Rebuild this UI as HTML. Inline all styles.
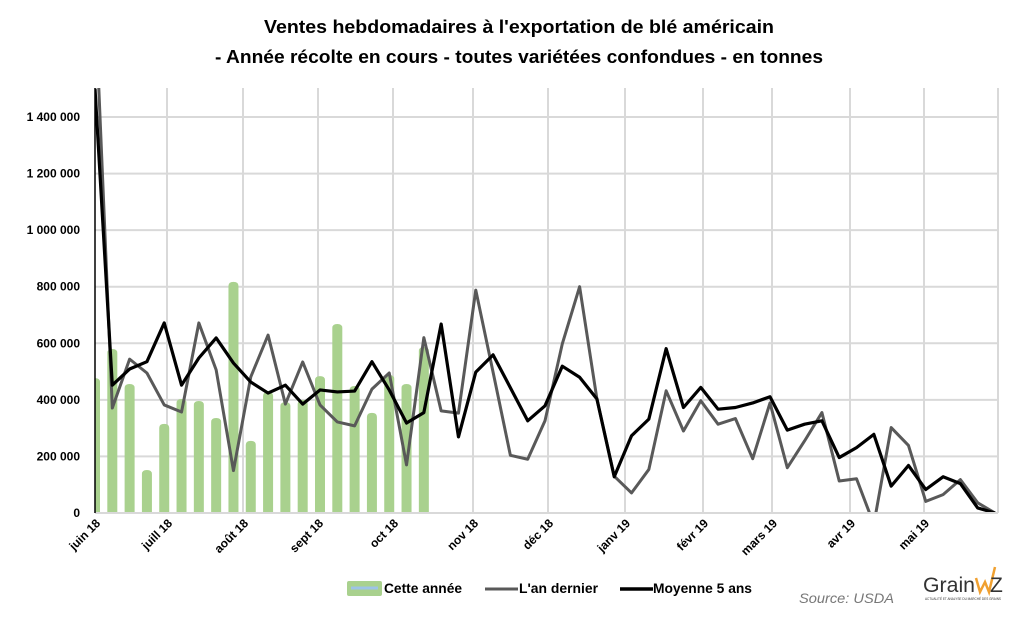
<!DOCTYPE html>
<html><head><meta charset="utf-8"><style>
body{margin:0;background:#fff;}
svg{display:block;font-family:"Liberation Sans Narrow","Liberation Sans",sans-serif;}
</style></head><body>
<svg id="chart" width="1024" height="622" viewBox="0 0 1024 622">
<text x="519" y="33" text-anchor="middle" font-size="18" font-weight="bold" textLength="510" lengthAdjust="spacingAndGlyphs">Ventes hebdomadaires à l'exportation de blé américain</text>
<text x="519" y="63" text-anchor="middle" font-size="18" font-weight="bold" textLength="608" lengthAdjust="spacingAndGlyphs">- Année récolte en cours - toutes variétées confondues - en tonnes</text>
<g id="grid"></g><g id="bars"></g><g id="lines"></g><g id="axes"></g>
<g>
 <rect x="347" y="581" width="35" height="15" rx="2" fill="#a9d18e"/>
 <line x1="351" y1="588" x2="378" y2="588" stroke="#9dc3e6" stroke-width="3"/>
 <text x="384" y="593" font-size="14" font-weight="bold" textLength="78" lengthAdjust="spacingAndGlyphs">Cette année</text>
 <line x1="485" y1="589" x2="518" y2="589" stroke="#595959" stroke-width="3"/>
 <text x="519" y="593" font-size="14" font-weight="bold" textLength="79" lengthAdjust="spacingAndGlyphs">L'an dernier</text>
 <line x1="620" y1="589" x2="653" y2="589" stroke="#000" stroke-width="3.5"/>
 <text x="653" y="593" font-size="14" font-weight="bold" textLength="99" lengthAdjust="spacingAndGlyphs">Moyenne 5 ans</text>
</g>
<text x="799" y="603" font-size="14" font-style="italic" fill="#777" textLength="95" lengthAdjust="spacingAndGlyphs">Source: USDA</text>
<g>
 <text x="923" y="592" font-size="21" fill="#333" font-family="Liberation Sans, sans-serif" textLength="52" lengthAdjust="spacingAndGlyphs">Grain</text>
 <polyline points="976,578 980,592 985,582 989,592 995,567" fill="none" stroke="#f0a030" stroke-width="2.5"/>
 <text x="990" y="592" font-size="21" fill="#333" font-family="Liberation Sans, sans-serif">Z</text>
 <text x="925" y="600" font-size="4" fill="#333" textLength="76" lengthAdjust="spacingAndGlyphs">ACTUALITÉ ET ANALYSE DU MARCHÉ DES GRAINS</text>
</g>
</svg>
<script>
const monthLabels=["juin 18","juill 18","août 18","sept 18","oct 18","nov 18","déc 18","janv 19","févr 19","mars 19","avr 19","mai 19"];
const monthGridX=[95,167,243,318,393,473,548,625,703,772,850,924,998];
const yTicks=[0,200000,400000,600000,800000,1000000,1200000,1400000];
const yTickLabels=["0","200 000","400 000","600 000","800 000","1 000 000","1 200 000","1 400 000"];
const cetteAnnee=[477000,580000,456000,152000,315000,403000,396000,336000,817000,255000,428000,392000,400000,484000,668000,449000,354000,488000,456000,587000];
const anDernier=[1820000,371000,544000,495000,382000,357000,672000,506000,150000,481000,629000,385000,534000,382000,322000,308000,438000,495000,170000,620000,361000,353000,788000,498000,204000,190000,326000,598000,800000,403000,130000,71000,154000,432000,290000,397000,314000,334000,192000,389000,160000,255000,355000,113000,121000,-40000,302000,239000,41000,65000,118000,36000,0];
const moyenne5=[1500000,452000,509000,535000,672000,452000,548000,619000,530000,463000,424000,452000,385000,435000,428000,431000,535000,435000,318000,355000,668000,269000,498000,559000,443000,326000,379000,519000,480000,403000,128000,273000,332000,581000,373000,444000,367000,373000,389000,411000,293000,314000,326000,196000,231000,278000,95000,168000,83000,128000,104000,18000,0];
const NS="http://www.w3.org/2000/svg";
const X0=95,X1=995,Y0=513,YT=117,PT=88;
const x=i=>X0+i*(X1-X0)/52;
const y=v=>Y0-(v/1400000)*(Y0-YT);
function mk(tag,attrs,parent){const e=document.createElementNS(NS,tag);for(const k in attrs)e.setAttribute(k,attrs[k]);parent.appendChild(e);return e;}
const svg=document.getElementById('chart');
const defs=mk('defs',{},svg);
const cp=mk('clipPath',{id:'plotclip'},defs);
mk('rect',{x:X0,y:PT,width:X1-X0+5,height:Y0-PT},cp);
const grid=document.getElementById('grid');
yTicks.forEach((t,i)=>{
 if(t>0){const g=mk('line',{x1:X0,x2:998,y1:y(t),y2:y(t),stroke:'#d9d9d9','stroke-width':2},grid);
 
 }
 const l=mk('text',{x:80,y:y(t)+4,'text-anchor':'end','font-size':12,'font-weight':'bold','font-family':'Liberation Sans, sans-serif'},grid);
 
 
 l.textContent=yTickLabels[i];
});
monthGridX.forEach((gx,i)=>{
 if(i>0){const g=mk('line',{x1:gx,x2:gx,y1:PT,y2:Y0,stroke:'#d9d9d9','stroke-width':2},grid);
 
 }
 if(i<monthLabels.length){
 const t=mk('text',{x:gx+6,y:Y0+11,'text-anchor':'end','font-size':12,'font-weight':'bold',transform:`rotate(-45 ${gx+6} ${Y0+11})`},grid);
 
 
 t.textContent=monthLabels[i];}
});
const bars=document.getElementById('bars');
bars.setAttribute('clip-path','url(#plotclip)');
cetteAnnee.forEach((v,i)=>{
 const w=10,top=y(v);
 const r=mk('path',{d:`M${x(i)-w/2},${Y0} L${x(i)-w/2},${top+4} Q${x(i)-w/2},${top} ${x(i)},${top} Q${x(i)+w/2},${top} ${x(i)+w/2},${top+4} L${x(i)+w/2},${Y0} Z`,fill:'#a9d18e'},bars);
 
 
});
const lines=document.getElementById('lines');
lines.setAttribute('clip-path','url(#plotclip)');
const p1=mk('polyline',{points:anDernier.map((v,i)=>x(i)+','+y(v)).join(' '),fill:'none',stroke:'#595959','stroke-width':3,'stroke-linejoin':'round'},lines);


const p2=mk('polyline',{points:moyenne5.map((v,i)=>x(i)+','+y(v)).join(' '),fill:'none',stroke:'#000','stroke-width':3.2,'stroke-linejoin':'round'},lines);


const axes=document.getElementById('axes');
const xa=mk('line',{x1:X0,x2:998,y1:Y0,y2:Y0,stroke:'#d9d9d9','stroke-width':2},axes);


const ya=mk('line',{x1:X0,x2:X0,y1:PT,y2:Y0,stroke:'#000','stroke-width':1.5},axes);


</script>
</body></html>
